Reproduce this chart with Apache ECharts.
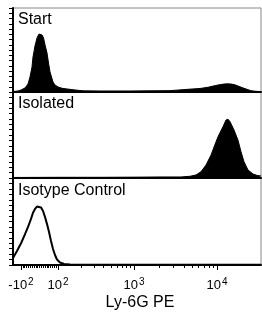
<!DOCTYPE html>
<html>
<head>
<meta charset="utf-8">
<script src="https://cdn.jsdelivr.net/npm/echarts@6/dist/echarts.min.js"></script>
<style>
  html, body { margin: 0; padding: 0; background: #fff; }
  #chart { width: 262px; height: 314px; }
</style>
</head>
<body>
<div id="chart"></div>
<script>
// display positions are in "decades" of the biexponential Ly-6G PE scale
var panelNames = ['Start', 'Isolated', 'Isotype Control'];

var startX = [1.542, 1.602, 1.639, 1.687, 1.723, 1.747, 1.771, 1.783, 1.807, 1.831, 1.855, 1.873, 1.892, 1.910, 1.928,
  1.952, 1.970, 1.988, 2.006, 2.024, 2.048, 2.084, 2.133, 2.193, 2.289, 2.386, 2.590, 2.952, 3.193, 3.434,
  3.651, 3.795, 3.892, 3.952, 4.012, 4.084, 4.133, 4.169, 4.217, 4.253, 4.325, 4.373, 4.410, 4.470, 4.530];
var startY = [0.6, 1.2, 2.4, 4.8, 9.5, 17.9, 29.8, 41.7, 54.8, 64.3, 69, 70.2, 67.9, 64.3, 56,
  46.4, 34.5, 23.8, 17.9, 11.9, 8.3, 6, 4.4, 3.6, 2.4, 1.4, 1.2, 1.2, 1.4, 1.6,
  3.2, 4.2, 5.6, 7, 8.3, 9.5, 9.7, 9.5, 8.5, 7.1, 4.4, 2.8, 1.5, 0.8, 0.5];

var isolatedX = [1.542, 2.108, 2.590, 3.072, 3.313, 3.566, 3.675, 3.747, 3.807, 3.867, 3.928, 3.964, 4.012,
  4.072, 4.108, 4.133, 4.157, 4.205, 4.253, 4.289, 4.325, 4.373, 4.434, 4.482, 4.530];
var isolatedY = [0.6, 0.8, 0.8, 1.0, 1.2, 1.2, 2.0, 3.5, 7.3, 15, 26.7, 36, 48,
  59.6, 67.4, 68.3, 65.5, 55.8, 44, 30.6, 19, 9.3, 4.6, 3, 2.3];

var isotypeX = [1.542, 1.590, 1.639, 1.687, 1.723, 1.759, 1.783, 1.807, 1.831, 1.855, 1.880, 1.904, 1.928,
  1.952, 1.976, 2.000, 2.024, 2.048, 2.072, 2.108, 2.157, 2.229, 2.590, 4.530];
var isotypeY = [8, 16, 25, 35.6, 43.7, 53, 60, 64.4, 67.2, 67.8, 66, 62, 55,
  47, 38, 27.6, 18.4, 11.5, 6.3, 2.9, 1.1, 0.5, 0.3, 0.3];

var majorValues = [-100, 100, 1000, 10000];
var majorBase = ['-10', '10', '10', '10'];
var majorExp = ['2', '2', '3', '4'];
var minorValues = [-90, -80, -70, -60, -50, -40, -30, -20, -10, 0, 10, 20, 30, 40, 50, 60, 70, 80, 90,
  200, 300, 400, 500, 600, 700, 800, 900, 2000, 3000, 4000, 5000, 6000, 7000, 8000, 9000];

var XMIN = 1.542, XMAX = 4.530;

// value -> display decades (linear around zero, log above)
function toDisplay(v) {
  if (v <= 100) return 1.861 + v / 100 * 0.2225;
  if (v < 1000) return 2.0835 + (Math.log10(v) - 2) * 0.9165;
  return Math.log10(v);
}

var majorPos = majorValues.map(toDisplay);
var minorPos = minorValues.map(toDisplay);

function zip(xs, ys) {
  return xs.map(function (x, i) { return [x, ys[i]]; });
}

var font = "'Liberation Sans', Arial, sans-serif";
var panels = [{top: 8, height: 84}, {top: 92, height: 86}, {top: 178, height: 87}];

var grids = [], xAxes = [], yAxes = [], titles = [];
var titleTops = [12, 96, 183];
panels.forEach(function (p, i) {
  grids.push({left: 13, right: 1, top: p.top, height: p.height, show: true, borderColor: '#888', borderWidth: 1});
  xAxes.push({
    type: 'value', gridIndex: i, min: XMIN, max: XMAX,
    axisLine: {onZero: false, lineStyle: {color: '#000', width: 2}},
    axisTick: i === 2 ? {customValues: minorPos, length: 3, lineStyle: {color: '#000', width: 1}} : {show: false},
    axisLabel: {show: false},
    splitLine: {show: false}
  });
  yAxes.push({
    type: 'value', gridIndex: i, min: 0, max: 100, interval: 6.25,
    axisLine: {lineStyle: {color: '#000', width: 2}},
    axisTick: {length: 4, lineStyle: {color: '#000', width: 1}},
    axisLabel: {show: false},
    splitLine: {show: false}
  });
  titles.push({
    text: panelNames[i], left: 18, top: titleTops[i], padding: 0,
    textStyle: {fontFamily: font, fontSize: 16, fontWeight: 'normal', color: '#000'}
  });
});

// major ticks + labels + axis name on the bottom panel
xAxes.push({
  type: 'value', gridIndex: 2, position: 'bottom', min: XMIN, max: XMAX,
  axisLine: {show: false, onZero: false},
  axisTick: {customValues: majorPos, length: 5, lineStyle: {color: '#000', width: 1}},
  axisLabel: {
    customValues: majorPos, margin: 12, color: '#000',
    formatter: function (val) {
      for (var i = 0; i < majorPos.length; i++) {
        if (Math.abs(majorPos[i] - val) < 1e-6) return '{b|' + majorBase[i] + '}{s|' + majorExp[i] + '}';
      }
      return '';
    },
    rich: {
      b: {fontFamily: font, fontSize: 13, lineHeight: 15, verticalAlign: 'bottom', color: '#000'},
      s: {fontFamily: font, fontSize: 10, lineHeight: 12, verticalAlign: 'top', color: '#000', padding: [0, 0, 0, 1]}
    }
  },
  splitLine: {show: false},
  name: 'Ly-6G PE', nameLocation: 'middle', nameGap: 30,
  nameTextStyle: {fontFamily: font, fontSize: 16, color: '#000', padding: [0, 0, 0, 6]}
});

var chart = echarts.init(document.getElementById('chart'));
chart.setOption({
  animation: false,
  backgroundColor: '#fff',
  textStyle: {fontFamily: font},
  title: titles,
  grid: grids,
  xAxis: xAxes,
  yAxis: yAxes,
  series: [
    {type: 'line', xAxisIndex: 0, yAxisIndex: 0, data: zip(startX, startY), symbol: 'none',
      lineStyle: {color: '#000', width: 1}, areaStyle: {color: '#000', opacity: 1}},
    {type: 'line', xAxisIndex: 1, yAxisIndex: 1, data: zip(isolatedX, isolatedY), symbol: 'none',
      lineStyle: {color: '#000', width: 1}, areaStyle: {color: '#000', opacity: 1}},
    {type: 'line', xAxisIndex: 2, yAxisIndex: 2, data: zip(isotypeX, isotypeY), symbol: 'none',
      lineStyle: {color: '#000', width: 2}}
  ]
});
</script>
</body>
</html>
